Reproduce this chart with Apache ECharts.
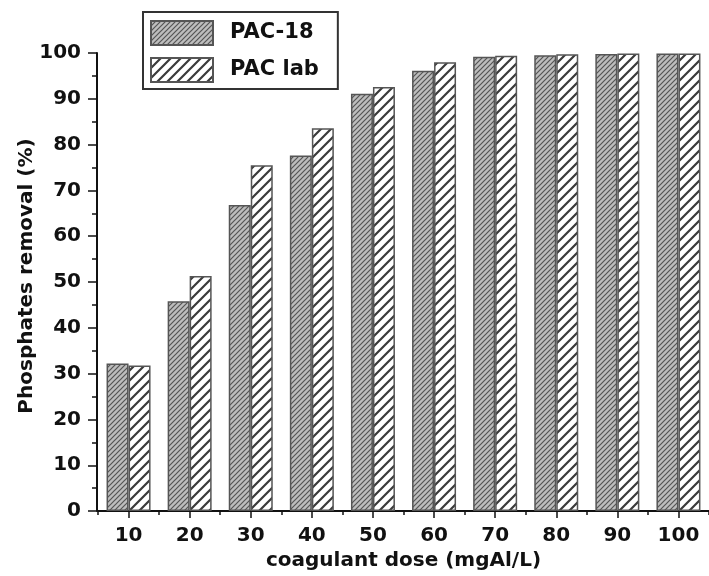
<!DOCTYPE html>
<html>
<head>
<meta charset="utf-8">
<script src="https://cdn.jsdelivr.net/npm/echarts@6/dist/echarts.min.js"></script>
<style>html,body{margin:0;padding:0;background:#fff;}#c{width:709px;height:576px;}</style>
</head>
<body>
<div id="c"></div>
<script>
const categories = ['10','20','30','40','50','60','70','80','90','100'];
const pac18 = [32.2, 45.8, 66.8, 77.6, 91.1, 96.1, 99.2, 99.5, 99.8, 99.9];
const pacLab = [31.8, 51.3, 75.5, 83.6, 92.6, 98.0, 99.4, 99.7, 99.9, 99.9];
const yTicks = [0,10,20,30,40,50,60,70,80,90,100];
const seriesNames = ['PAC-18', 'PAC lab'];

function hatch(size, bg, fg, lw) {
  const c = document.createElement('canvas');
  c.width = size; c.height = size;
  const g = c.getContext('2d');
  g.fillStyle = bg; g.fillRect(0,0,size,size);
  g.strokeStyle = fg; g.lineWidth = lw;
  g.beginPath();
  g.moveTo(0,size); g.lineTo(size,0);
  g.moveTo(-2,2); g.lineTo(2,-2);
  g.moveTo(size-2,size+2); g.lineTo(size+2,size-2);
  g.stroke();
  return {image: c, repeat: 'repeat'};
}
const patA = hatch(5, '#bdbdbd', '#555555', 1.2);
const patB = hatch(10, '#ffffff', '#3a3a3a', 2.2);

const FONT = 'DejaVu Sans';
const chart = echarts.init(document.getElementById('c'), null, {renderer:'canvas'});
chart.setOption({
  animation: false,
  backgroundColor: '#fff',
  grid: {left: 98, width: 613, top: 53, bottom: 63, containLabel: false},
  legend: {
    orient: 'vertical', left: 143, top: 12,
    padding: [8, 19, 6, 7],
    borderColor: '#333', borderWidth: 2,
    itemWidth: 62, itemHeight: 24, itemGap: 11,
    icon: 'rect',
    textStyle: {fontFamily: FONT, fontWeight: 'bold', fontSize: 21, color: '#111', padding: [0,0,0,12]},
    data: seriesNames
  },
  xAxis: [{
    type: 'category', data: categories, boundaryGap: true,
    axisLine: {show: true, lineStyle: {color: '#111', width: 2}},
    axisTick: {show: true, alignWithLabel: true, interval: 0, length: 7, lineStyle: {color: '#111', width: 1.5}},
    axisLabel: {interval: 0, margin: 15, fontFamily: FONT, fontWeight: 'bold', fontSize: 20, color: '#111'},
    name: 'coagulant dose (mgAl/L)', nameLocation: 'middle', nameGap: 26,
    nameTextStyle: {fontFamily: FONT, fontWeight: 'bold', fontSize: 20, color: '#111'}
  }, {
    type: 'category', data: categories, boundaryGap: true, position: 'bottom',
    axisLine: {show: false},
    axisTick: {show: true, interval: 0, length: 4, lineStyle: {color: '#111', width: 1.5}},
    axisLabel: {show: false}
  }],
  yAxis: {
    type: 'value', min: 0, max: 100, interval: 10, offset: 1,
    splitLine: {show: false},
    axisLine: {show: true, lineStyle: {color: '#111', width: 2}},
    axisTick: {show: true, length: 9, lineStyle: {color: '#111', width: 1.5}},
    minorTick: {show: true, splitNumber: 2, length: 5, lineStyle: {color: '#111', width: 1.5}},
    axisLabel: {margin: 16, fontFamily: FONT, fontWeight: 'bold', fontSize: 20, color: '#111',
      formatter: v => yTicks.indexOf(v) >= 0 ? String(v) : ''}
  },
  graphic: [{
    type: 'text', x: 27, y: 276, rotation: Math.PI/2,
    style: {text: 'Phosphates removal (%)', font: 'bold 20px "DejaVu Sans"', fill: '#111',
      textAlign: 'center', textVerticalAlign: 'middle'}
  }],
  series: [{
    name: seriesNames[0], type: 'bar', data: pac18, barWidth: 22, barGap: '0%',
    itemStyle: {color: patA, borderColor: '#555', borderWidth: 1.5}
  }, {
    name: seriesNames[1], type: 'bar', data: pacLab, barWidth: 22, barGap: '0%',
    itemStyle: {color: patB, borderColor: '#555', borderWidth: 1.5}
  }]
});
</script>
</body>
</html>
